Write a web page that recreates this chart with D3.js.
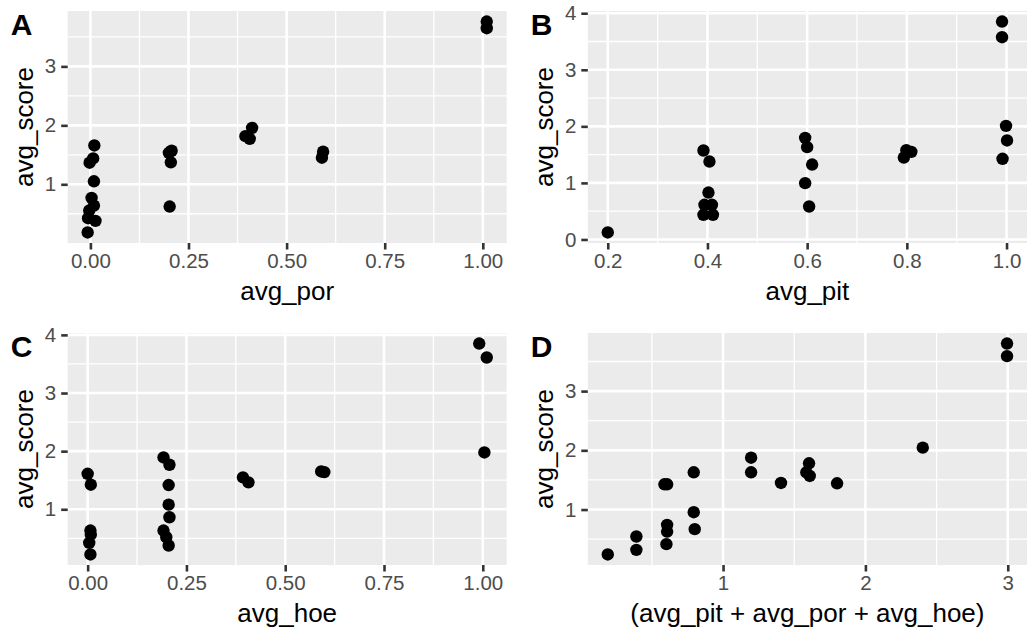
<!DOCTYPE html>
<html><head><meta charset="utf-8">
<script src="https://cdn.jsdelivr.net/npm/d3@7"></script>
<style>
body{margin:0;background:#fff}
svg{display:block}
text{font-family:"Liberation Sans", Arial, Helvetica, sans-serif}
</style>
</head><body>
<svg id="chart" width="1027" height="634"></svg>
<script>
// ---- data (jittered positions as drawn) ----
const porX = [1.010, 1.010, 0.412, 0.395, 0.406, 0.593, 0.590, 0.207, 0.200, 0.205, 0.202,
              0.010, 0.007, -0.002, 0.009, 0.003, 0.009, -0.003, -0.006, 0.013, -0.007];
const porScore = [3.761, 3.648, 1.958, 1.817, 1.772, 1.552, 1.451, 1.569, 1.535, 1.372, 0.623,
                  1.659, 1.439, 1.366, 1.051, 0.769, 0.639, 0.555, 0.425, 0.380, 0.183];

const pitX = [0.200, 0.392, 0.404, 0.402, 0.394, 0.409, 0.392, 0.411, 0.596, 0.600, 0.610,
              0.596, 0.604, 0.794, 0.799, 0.809, 0.991, 0.991, 0.999, 1.001, 0.992];
const pitScore = [0.124, 1.573, 1.378, 0.830, 0.613, 0.613, 0.436, 0.436, 1.797, 1.632, 1.325,
                  0.996, 0.583, 1.449, 1.579, 1.549, 3.853, 3.576, 2.009, 1.750, 1.426];

const hoeX = [0.991, 1.010, 1.004, 0.591, 0.599, 0.393, 0.407, 0.192, 0.207, 0.205, 0.205,
              0.207, 0.192, 0.199, 0.205, 0.000, 0.008, 0.007, 0.008, 0.004, 0.007];
const hoeScore = [3.851, 3.611, 1.977, 1.651, 1.640, 1.549, 1.463, 1.891, 1.766, 1.417, 1.080,
                  0.863, 0.634, 0.520, 0.377, 1.611, 1.423, 0.634, 0.566, 0.423, 0.223];

const sumX = [0.190, 0.391, 0.391, 0.588, 0.607, 0.607, 0.607, 0.602, 0.794, 0.794, 0.801,
              1.197, 1.197, 1.407, 1.604, 1.585, 1.609, 1.801, 2.403, 2.995, 2.995];
const sumScore = [0.242, 0.545, 0.320, 1.427, 1.427, 0.742, 0.629, 0.416, 1.629, 0.955, 0.669,
                  1.876, 1.629, 1.449, 1.781, 1.629, 1.567, 1.444, 2.045, 3.803, 3.590];

const tags = ["A", "B", "C", "D"];
const xTitles = ["avg_por", "avg_pit", "avg_hoe", "(avg_pit + avg_por + avg_hoe)"];
const yTitle = "avg_score";
const porTicks = [0, 0.25, 0.5, 0.75, 1];
const pitTicks = [0.2, 0.4, 0.6, 0.8, 1.0];
const hoeTicks = [0, 0.25, 0.5, 0.75, 1];
const sumTicks = [1, 2, 3];
const scoreTicksA = [1, 2, 3];
const scoreTicksB = [0, 1, 2, 3, 4];
const scoreTicksC = [1, 2, 3, 4];
const scoreTicksD = [1, 2, 3];

// ---- layout ----
const svg = d3.select("#chart");
const panels = [
  {tag: tags[0], xs: porX, ys: porScore, xTitle: xTitles[0], xTicks: porTicks, xFmt: d3.format(".2f"), yTicks: scoreTicksA,
   l: 67.7, r: 506.7, t: 11, b: 243},
  {tag: tags[1], xs: pitX, ys: pitScore, xTitle: xTitles[1], xTicks: pitTicks, xFmt: d3.format(".1f"), yTicks: scoreTicksB,
   l: 587.8, r: 1027, t: 11, b: 243},
  {tag: tags[2], xs: hoeX, ys: hoeScore, xTitle: xTitles[2], xTicks: hoeTicks, xFmt: d3.format(".2f"), yTicks: scoreTicksC,
   l: 67.7, r: 506.7, t: 333, b: 565},
  {tag: tags[3], xs: sumX, ys: sumScore, xTitle: xTitles[3], xTicks: sumTicks, xFmt: d3.format("d"), yTicks: scoreTicksD,
   l: 587.8, r: 1027, t: 333, b: 565}
];

function expanded(vals) {
  const [lo, hi] = d3.extent(vals);
  const pad = (hi - lo) * 0.05;
  return [lo - pad, hi + pad];
}
function minors(ticks, dom) {
  const step = ticks[1] - ticks[0];
  const out = [];
  for (let m = ticks[0] - step / 2 - step * 4; m <= dom[1]; m += step) {
    if (m >= dom[0] && m <= dom[1]) out.push(m);
  }
  return out;
}

panels.forEach(p => {
  const xDom = expanded(p.xs), yDom = expanded(p.ys);
  const x = d3.scaleLinear().domain(xDom).range([p.l, p.r]);
  const y = d3.scaleLinear().domain(yDom).range([p.b, p.t]);
  const g = svg.append("g");

  g.append("rect").attr("x", p.l).attr("y", p.t).attr("width", p.r - p.l).attr("height", p.b - p.t)
    .attr("fill", "#EBEBEB");

  // minor grid
  g.selectAll(null).data(minors(p.xTicks, xDom)).enter().append("line")
    .attr("x1", d => x(d)).attr("x2", d => x(d)).attr("y1", p.t).attr("y2", p.b)
    .attr("stroke", "#fff").attr("stroke-width", 1.3);
  g.selectAll(null).data(minors(p.yTicks, yDom)).enter().append("line")
    .attr("y1", d => y(d)).attr("y2", d => y(d)).attr("x1", p.l).attr("x2", p.r)
    .attr("stroke", "#fff").attr("stroke-width", 1.3);
  // major grid
  g.selectAll(null).data(p.xTicks).enter().append("line")
    .attr("x1", d => x(d)).attr("x2", d => x(d)).attr("y1", p.t).attr("y2", p.b)
    .attr("stroke", "#fff").attr("stroke-width", 2.6);
  g.selectAll(null).data(p.yTicks).enter().append("line")
    .attr("y1", d => y(d)).attr("y2", d => y(d)).attr("x1", p.l).attr("x2", p.r)
    .attr("stroke", "#fff").attr("stroke-width", 2.6);

  // axes
  const xAxis = d3.axisBottom(x).tickValues(p.xTicks).tickFormat(p.xFmt).tickSizeInner(6.5).tickSizeOuter(0).tickPadding(4);
  const ax = g.append("g").attr("transform", `translate(0,${p.b})`).call(xAxis);
  ax.select(".domain").remove();
  ax.selectAll(".tick line").attr("stroke", "#333333").attr("stroke-width", 2.6);
  ax.selectAll(".tick text").attr("fill", "#4D4D4D").attr("font-size", 20.5)
    .attr("font-family", '"Liberation Sans", Arial, sans-serif');

  const yAxis = d3.axisLeft(y).tickValues(p.yTicks).tickFormat(d3.format("d")).tickSizeInner(6.5).tickSizeOuter(0).tickPadding(5);
  const ay = g.append("g").attr("transform", `translate(${p.l},0)`).call(yAxis);
  ay.select(".domain").remove();
  ay.selectAll(".tick line").attr("stroke", "#333333").attr("stroke-width", 2.6);
  ay.selectAll(".tick text").attr("fill", "#4D4D4D").attr("font-size", 20.5)
    .attr("font-family", '"Liberation Sans", Arial, sans-serif');

  // points
  g.selectAll(null).data(p.xs.map((v, i) => [v, p.ys[i]])).enter().append("circle")
    .attr("cx", d => x(d[0])).attr("cy", d => y(d[1])).attr("r", 6.2).attr("fill", "#000");

  // titles
  g.append("text").attr("x", (p.l + p.r) / 2).attr("y", p.b + 57).attr("text-anchor", "middle")
    .attr("font-size", 26).attr("fill", "#000").text(p.xTitle);
  g.append("text").attr("transform", `translate(${p.l - 35},${(p.t + p.b) / 2}) rotate(-90)`)
    .attr("text-anchor", "middle").attr("font-size", 26).attr("fill", "#000").text(yTitle);
  // tag
  g.append("text").attr("x", p.l - 57).attr("y", p.t + 24).attr("font-size", 30).attr("font-weight", "bold")
    .attr("fill", "#000").text(p.tag);
});
</script>
</body></html>
